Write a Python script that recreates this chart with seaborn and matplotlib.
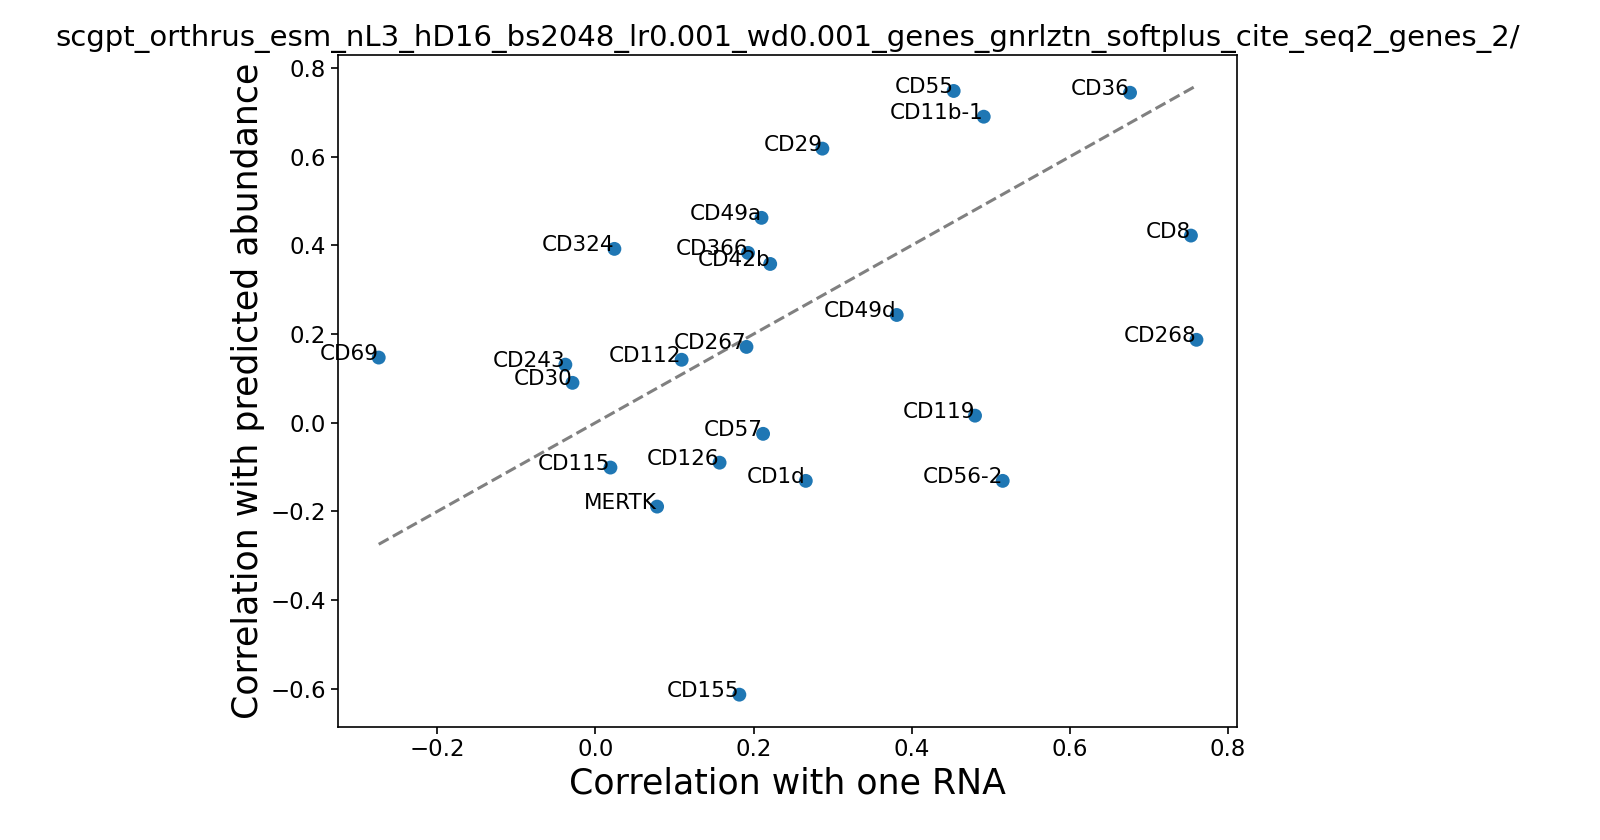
import matplotlib
matplotlib.use("Agg")
import matplotlib.pyplot as plt
import seaborn as sns
import pandas as pd

names = ["CD55", "CD36", "CD11b-1", "CD29", "CD49a", "CD324", "CD366", "CD42b", "CD8",
         "CD49d", "CD268", "CD69", "CD243", "CD30", "CD112", "CD267", "CD119", "CD57",
         "CD115", "CD126", "CD1d", "CD56-2", "MERTK", "CD155"]
rna_corr = [0.453, 0.676, 0.491, 0.287, 0.210, 0.024, 0.193, 0.221, 0.753,
            0.381, 0.760, -0.274, -0.038, -0.029, 0.109, 0.191, 0.480, 0.212,
            0.019, 0.157, 0.266, 0.515, 0.078, 0.182]
pred_corr = [0.748, 0.744, 0.690, 0.618, 0.462, 0.392, 0.383, 0.358, 0.422,
             0.243, 0.187, 0.147, 0.131, 0.090, 0.142, 0.171, 0.016, -0.025,
             -0.101, -0.090, -0.131, -0.131, -0.189, -0.613]

df = pd.DataFrame({"name": names, "rna": rna_corr, "pred": pred_corr})

fig = plt.figure(figsize=(16, 8.4), dpi=100)
ax = fig.add_axes([0.211, 0.135, 0.562, 0.8])
sns.scatterplot(data=df, x="rna", y="pred", ax=ax, s=100, color="#1f77b4", edgecolor="none")
for n, x, y in zip(names, rna_corr, pred_corr):
    ax.text(x, y - 0.014, n, ha="right", va="bottom", fontsize=15.5)
lo, hi = min(rna_corr), max(rna_corr)
ax.plot([lo, hi], [lo, hi], ls="--", color="grey", lw=2.2)
ax.set_xlim(-0.326, 0.811)
ax.set_ylim(-0.685, 0.83)
ax.tick_params(labelsize=16.5, length=5, width=1.2)
for s in ax.spines.values():
    s.set_linewidth(1.2)
ax.set_xlabel("Correlation with one RNA", fontsize=25)
ax.set_ylabel("Correlation with predicted abundance", fontsize=25)
ax.set_title("scgpt_orthrus_esm_nL3_hD16_bs2048_lr0.001_wd0.001_genes_gnrlztn_softplus_cite_seq2_genes_2/", fontsize=21)
fig.savefig("out.png")
